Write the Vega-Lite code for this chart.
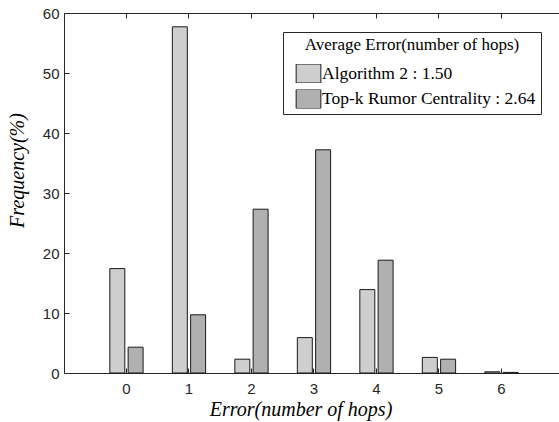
{
  "$schema": "https://vega.github.io/schema/vega-lite/v6.json",
  "width": 495,
  "height": 360,
  "autosize": {"type": "none"},
  "padding": {"left": 64, "top": 13, "right": 0, "bottom": 49},
  "background": "white",
  "config": {
    "view": {"stroke": null},
    "axis": {
      "grid": false,
      "domainColor": "#262626",
      "tickColor": "#262626",
      "labelColor": "#262626",
      "labelFont": "Liberation Sans",
      "labelFontSize": 15,
      "titleFont": "Liberation Serif",
      "titleFontStyle": "italic",
      "titleFontWeight": "normal",
      "titleFontSize": 20,
      "titleColor": "#000000",
      "tickSize": -5,
      "domainWidth": 1,
      "tickWidth": 1
    }
  },
  "data": {
    "values": [
      {"error": 0, "method": "Algorithm 2 : 1.50", "frequency": 17.4},
      {"error": 0, "method": "Top-k Rumor Centrality : 2.64", "frequency": 4.3},
      {"error": 1, "method": "Algorithm 2 : 1.50", "frequency": 57.7},
      {"error": 1, "method": "Top-k Rumor Centrality : 2.64", "frequency": 9.7},
      {"error": 2, "method": "Algorithm 2 : 1.50", "frequency": 2.3},
      {"error": 2, "method": "Top-k Rumor Centrality : 2.64", "frequency": 27.3},
      {"error": 3, "method": "Algorithm 2 : 1.50", "frequency": 5.9},
      {"error": 3, "method": "Top-k Rumor Centrality : 2.64", "frequency": 37.2},
      {"error": 4, "method": "Algorithm 2 : 1.50", "frequency": 13.9},
      {"error": 4, "method": "Top-k Rumor Centrality : 2.64", "frequency": 18.8},
      {"error": 5, "method": "Algorithm 2 : 1.50", "frequency": 2.6},
      {"error": 5, "method": "Top-k Rumor Centrality : 2.64", "frequency": 2.3},
      {"error": 6, "method": "Algorithm 2 : 1.50", "frequency": 0.2},
      {"error": 6, "method": "Top-k Rumor Centrality : 2.64", "frequency": 0.1}
    ]
  },
  "layer": [
    {
      "mark": {"type": "bar", "stroke": "#1a1a1a", "strokeWidth": 1},
      "encoding": {
        "x": {
          "field": "error",
          "type": "ordinal",
          "scale": {"domain": [0, 1, 2, 3, 4, 5, 6], "paddingInner": 0, "paddingOuter": 0.46, "align": 0.543},
          "axis": {
            "orient": "bottom",
            "labelAngle": 0,
            "bandPosition": 0.5,
            "labelPadding": 13,
            "title": "Error(number of hops)",
            "titleX": 236.5,
            "titleY": 36,
            "titleAlign": "center",
            "titleBaseline": "middle"
          }
        },
        "xOffset": {
          "field": "method",
          "type": "nominal",
          "scale": {"domain": ["Algorithm 2 : 1.50", "Top-k Rumor Centrality : 2.64"], "paddingInner": 0.18, "paddingOuter": 0.8}
        },
        "y": {
          "field": "frequency",
          "type": "quantitative",
          "scale": {"domain": [0, 60], "nice": false, "zero": true},
          "axis": {
            "values": [0, 10, 20, 30, 40, 50, 60],
            "labelPadding": 10,
            "title": "Frequency(%)",
            "titleX": -47,
            "titleY": 157,
            "titleAngle": 270,
            "titleAlign": "center",
            "titleBaseline": "middle"
          }
        },
        "fill": {
          "field": "method",
          "type": "nominal",
          "scale": {"domain": ["Algorithm 2 : 1.50", "Top-k Rumor Centrality : 2.64"], "range": ["#cecece", "#b0b0b0"]},
          "legend": {
            "orient": "none",
            "legendX": 219,
            "legendY": 19,
            "title": "Average Error(number of hops)",
            "titleFont": "Liberation Serif",
            "titleFontSize": 17,
            "titleFontWeight": "normal",
            "titleColor": "#000000",
            "titleAnchor": "middle",
            "titleLimit": 500,
            "titlePadding": 10,
            "labelFont": "Liberation Serif",
            "labelFontSize": 17.5,
            "labelColor": "#000000",
            "labelOffset": 3.5,
            "labelLimit": 500,
            "symbolType": "M-1.3,-1H1.3V1H-1.3Z",
            "symbolSize": 361,
            "symbolStrokeColor": "#1a1a1a",
            "symbolStrokeWidth": 1,
            "symbolOffset": 10.5,
            "clipHeight": 19,
            "padding": 5,
            "rowPadding": 6.5,
            "strokeColor": "#262626",
            "fillColor": "#ffffff",
            "cornerRadius": 0
          }
        }
      }
    },
    {
      "mark": {"type": "bar", "opacity": 0},
      "encoding": {
        "x": {
          "field": "error",
          "type": "ordinal",
          "axis": {"orient": "top", "labels": false, "title": null, "bandPosition": 0.5}
        }
      }
    }
  ],
  "resolve": {"axis": {"x": "independent"}}
}
